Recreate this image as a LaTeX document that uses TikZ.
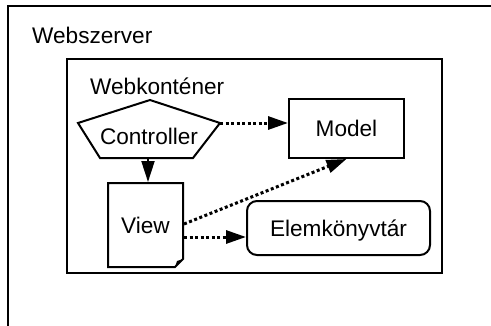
\documentclass[tikz,border=0pt]{standalone}
\usepackage{fontspec}
\setmainfont{Liberation Sans}
\usetikzlibrary{arrows.meta}
\begin{document}
\begin{tikzpicture}[x=1pt,y=-1pt,
  lbl/.style={font=\fontsize{22.6}{27}\selectfont, inner sep=0pt},
  boxed/.style={draw, line width=2pt, fill=white, inner sep=0pt,
    font=\fontsize{22.6}{27}\selectfont, text height=16.2pt, text depth=0pt},
  frame/.style={draw, line width=2pt},
  solidarr/.style={line width=2pt, -{Triangle[length=21pt,width=13pt]}},
  dotarr/.style={line width=3pt, dash pattern=on 3pt off 2.5pt, -{Triangle[length=20pt,width=13pt]}}
]
\path[use as bounding box, clip] (0,0) rectangle (491,325);
% outer and inner containers
\draw[frame] (8,6) rectangle (520,350);
\node[lbl, anchor=base west] (ws) at (32,43) {Webszerver};
\draw[frame] (67,59) rectangle (442,273);
\node[lbl, anchor=base west] (wk) at (90,94) {Webkonténer};
% Controller pentagon
\coordinate (cT) at (150,100);
\coordinate (cL) at (78,123);
\coordinate (cR) at (220,123);
\coordinate (cBL) at (100,158);
\coordinate (cBR) at (193,158);
\coordinate (cB) at (148,158);
\draw[frame, line join=miter] (cT) -- (cR) -- (cBR) -- (cBL) -- (cL) -- cycle;
\node[lbl, text height=16.2pt, text depth=0pt] (ctrl) at (149,136) {Controller};
% Model
\node[boxed, minimum width=115pt, minimum height=59pt] (model) at (346.5,128.5) {Model};
% Elemkonyvtar
\node[boxed, rounded corners=10pt, minimum width=183pt, minimum height=54pt] (elem) at (338.5,228) {Elemkönyvtár};
% View document
\node[boxed, draw=none, fill=none, outer sep=0pt, minimum width=75pt, minimum height=84pt] (view) at (145.5,225) {View};
\draw[frame, line join=miter] (view.south east) ++(0,-8) coordinate (vf1)
  -- (view.north east) -- (view.north west) -- (view.south west)
  -- ([xshift=-8pt]view.south east) coordinate (vf2) -- cycle;
\fill (vf2) -- ([shift={(-6pt,6pt)}]view.south east) -- (vf1) -- cycle;
% connectors
\draw[dotarr] (cR) -- (cR -| model.west);
\draw[solidarr] (cB) -- ([yshift=1pt]cB |- view.north);
\draw[dotarr] ([xshift=1pt,yshift=1pt]view.east) -- (model.south);
\draw[dotarr] ([xshift=1pt,yshift=-12pt]view.east) -- ([yshift=-12pt]view.east -| elem.west);
\end{tikzpicture}
\end{document}
